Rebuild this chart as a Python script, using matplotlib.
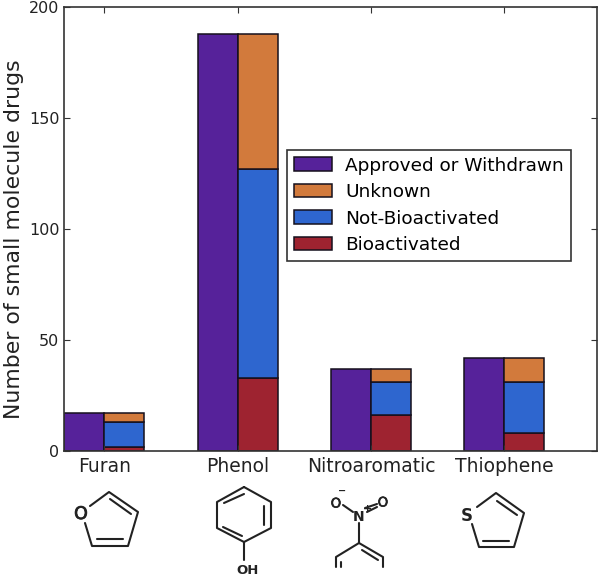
import matplotlib
matplotlib.use("Agg")
import matplotlib.pyplot as plt
import matplotlib.patheffects as pe
from matplotlib.lines import Line2D
import numpy as np

categories = ["Furan", "Phenol", "Nitroaromatic", "Thiophene"]
approved = [17, 188, 37, 42]
bioactivated = [2, 33, 16, 8]
not_bioactivated = [11, 94, 15, 23]
unknown = [4, 61, 6, 11]

W, H = 600, 575
fig = plt.figure(figsize=(W/100, H/100), dpi=100)
ax = fig.add_axes([63.5/W, 1-451/H, (596.5-63.5)/W, (451-7)/H])
x = np.arange(len(categories))
bw = 0.3
ec = "#15101c"
lw = 1.1
b1 = np.array(bioactivated)
b2 = b1 + np.array(not_bioactivated)
h_a = ax.bar(x-bw/2, approved, bw, color="#56229a", edgecolor=ec, linewidth=lw)
h_r = ax.bar(x+bw/2, bioactivated, bw, color="#9e2330", edgecolor=ec, linewidth=lw)
h_b = ax.bar(x+bw/2, not_bioactivated, bw, bottom=b1, color="#2e66cf", edgecolor=ec, linewidth=lw)
h_u = ax.bar(x+bw/2, unknown, bw, bottom=b2, color="#d27a3c", edgecolor=ec, linewidth=lw)
ax.set_xlim(-0.305, 3.69)
ax.set_ylim(0, 200)
ax.set_xticks(x)
ax.set_xticklabels(categories, fontsize=13.5, color="#222222")
ax.set_yticks([0, 50, 100, 150, 200])
ax.tick_params(axis="y", direction="in", left=True, right=True, labelsize=11.5, length=4, width=0.8, color="#333333", labelcolor="#222222", pad=3)
ax.tick_params(axis="x", direction="in", top=True, bottom=True, length=4, width=0.8, color="#333333", pad=4)
ax.set_ylabel("Number of small molecule drugs", fontsize=15.8, color="#222222")
ax.yaxis.set_label_coords((24-63.5)/533, (451-239)/444)
for s in ax.spines.values():
    s.set_linewidth(1.2)
    s.set_color("#333333")
leg = ax.legend([h_a, h_u, h_b, h_r], ["Approved or Withdrawn", "Unknown", "Not-Bioactivated", "Bioactivated"],
                loc="upper left", bbox_to_anchor=((287-63.5)/533, 1-(150-7)/444), borderaxespad=0,
                fontsize=13.3, fancybox=False, framealpha=1, edgecolor="#333333",
                handlelength=2.05, handleheight=0.75, labelspacing=0.46, handletextpad=0.75, borderpad=0.36)
leg.get_frame().set_linewidth(1.2)

# Structural formula sketches, positioned in picture pixels
def seg(*pts, lw=1.5):
    xs = [p[0]/W for p in pts]
    ys = [1-p[1]/H for p in pts]
    fig.add_artist(Line2D(xs, ys, color="#222222", lw=lw, solid_capstyle="round", transform=fig.transFigure))
def lab(px, py, s, size=11, weight="bold", stroke=0.0):
    t = fig.text(px/W, 1-py/H, s, ha="center", va="center", fontsize=size, fontweight=weight, color="#222222")
    if stroke:
        t.set_path_effects([pe.withStroke(linewidth=stroke, foreground="#222222")])

# furan
seg((90, 506), (109, 492), (138, 512), (128, 546), (92, 546), (85, 523))
seg((110, 499), (131, 514))
seg((97, 539), (123, 539))
lab(81, 514, "O", 12.5, "normal", 0.6)

# thiophene
seg((477, 507), (496, 493), (524, 513), (514, 547), (479, 547), (472, 524))
seg((497, 501), (517, 515))
seg((483, 541), (509, 541))
lab(467, 516, "S", 12)

# phenol
seg((244, 487), (271, 502), (271, 528), (244, 542), (217, 528), (217, 502), (244, 487))
seg((224, 503), (244, 494))
seg((264, 506), (264, 525))
seg((223, 527), (242, 536))
seg((244, 542), (244, 560))
lab(248, 570, "OH", 9.5)

# nitro
lab(336, 504, "O", 9.5, "normal", 0.5)
lab(342, 491, "\u2212", 7, "bold")
lab(359, 517, "N", 10)
lab(368, 509, "+", 8)
lab(383, 503, "O", 9.5, "normal", 0.5)
seg((343, 505), (353, 512))
seg((365, 508), (377, 504))
seg((367, 512), (377, 507))
seg((359, 523), (359, 543))
seg((336, 567), (336, 557), (359, 543), (383, 557), (383, 567))
seg((362, 550), (378, 560))
seg((341, 562), (341, 567))

fig.savefig("out.png", dpi=100)
